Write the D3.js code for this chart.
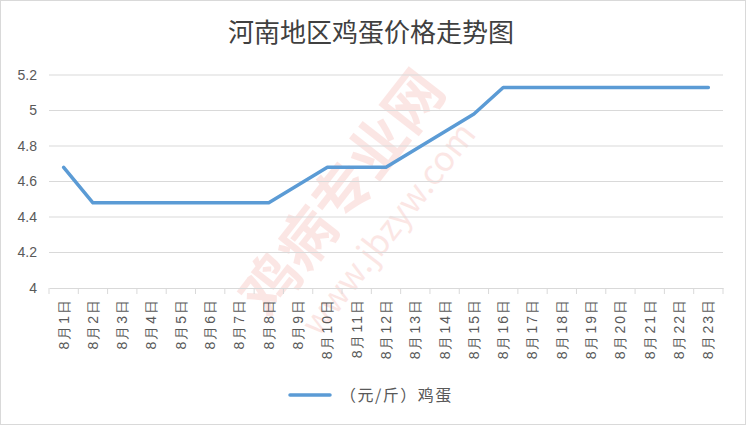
<!DOCTYPE html>
<meta charset="utf-8">
<style>
    body { margin: 0; background: #fff; }
    svg { display: block; font-family: "Noto Sans CJK SC", "DejaVu Sans", sans-serif; }
</style>
<script src="https://cdn.jsdelivr.net/npm/d3@7"></script>
<svg width="746" height="425"></svg>
<script>
    var dias = ["8月1日", "8月2日", "8月3日", "8月4日", "8月5日", "8月6日", "8月7日", "8月8日",
        "8月9日", "8月10日", "8月11日", "8月12日", "8月13日", "8月14日", "8月15日", "8月16日",
        "8月17日", "8月18日", "8月19日", "8月20日", "8月21日", "8月22日", "8月23日"];
    var precos = [4.68, 4.48, 4.48, 4.48, 4.48, 4.48, 4.48, 4.48, 4.58, 4.68, 4.68, 4.68,
        4.78, 4.88, 4.98, 5.13, 5.13, 5.13, 5.13, 5.13, 5.13, 5.13, 5.13];
    var ticksY = [4, 4.2, 4.4, 4.6, 4.8, 5, 5.2];
    var titulo = "河南地区鸡蛋价格走势图";
    var serie = "（元/斤）鸡蛋";

    var svg = d3.select("svg");

    // moldura
    svg.append("rect")
        .attr("x", 0.5).attr("y", 0.5)
        .attr("width", 745).attr("height", 424)
        .attr("fill", "#fff").attr("stroke", "#d9d9d9");

    // marca d'agua
    var marca = svg.append("g")
        .attr("transform", "translate(390,230) rotate(-52)")
        .attr("fill", "#e8463a")
        .attr("opacity", 0.13)
        .attr("text-anchor", "middle");
    marca.append("text").attr("y", -40)
        .style("font-size", "58px").style("font-weight", "bold")
        .text("鸡病专业网");
    marca.append("text").attr("y", 10)
        .style("font-size", "34px")
        .text("www.jbzyw.com");

    var x = d3.scaleBand().domain(dias).range([49, 723]);
    var y = d3.scaleLinear().domain([4, 5.2]).range([288, 75]);

    svg.append("g")
        .selectAll("line")
        .data(ticksY.slice(1))
        .enter().append("line")
        .attr("x1", 49).attr("x2", 723)
        .attr("y1", function (d) { return y(d); })
        .attr("y2", function (d) { return y(d); })
        .attr("stroke", "#d9d9d9").attr("stroke-width", 1);

    var eixoY = svg.append("g")
        .attr("transform", "translate(49,0)")
        .call(d3.axisLeft(y).tickValues(ticksY).tickSize(0).tickPadding(12).tickFormat(d3.format("")));
    eixoY.select(".domain").remove();
    eixoY.selectAll("text")
        .attr("fill", "#595959")
        .style("font-size", "14px")
        .style("font-family", "Liberation Sans, Arial, sans-serif");

    var eixoX = svg.append("g")
        .attr("transform", "translate(0,288)")
        .call(d3.axisBottom(x).tickSize(0));
    eixoX.select(".domain").attr("stroke", "#d9d9d9");
    eixoX.selectAll(".tick line").remove();
    eixoX.selectAll("text")
        .attr("fill", "#595959")
        .style("font-size", "14px")
        .style("letter-spacing", "2px")
        .attr("transform", "rotate(-90)")
        .attr("x", -10).attr("y", 0)
        .attr("dy", "0.35em")
        .style("text-anchor", "end");

    // marcas entre categorias
    svg.append("g")
        .selectAll("line")
        .data(dias.concat(["fim"]))
        .enter().append("line")
        .attr("x1", function (d, i) { return 49 + i * x.step(); })
        .attr("x2", function (d, i) { return 49 + i * x.step(); })
        .attr("y1", 288).attr("y2", 294)
        .attr("stroke", "#d9d9d9");

    var linha = d3.line()
        .x(function (d, i) { return x(dias[i]) + x.bandwidth() / 2; })
        .y(function (d) { return y(d); });

    svg.append("path")
        .datum(precos)
        .attr("d", linha)
        .attr("fill", "none")
        .attr("stroke", "#5b9bd5")
        .attr("stroke-width", 3.5)
        .attr("stroke-linecap", "round")
        .attr("stroke-linejoin", "round");

    svg.append("text")
        .attr("x", 371).attr("y", 42)
        .attr("text-anchor", "middle")
        .attr("fill", "#404040")
        .style("font-size", "26px")
        .text(titulo);

    // legenda
    svg.append("line")
        .attr("x1", 290).attr("x2", 330)
        .attr("y1", 395).attr("y2", 395)
        .attr("stroke", "#5b9bd5").attr("stroke-width", 3.5)
        .attr("stroke-linecap", "round");
    svg.append("text")
        .attr("x", 340).attr("y", 401)
        .attr("fill", "#595959")
        .style("font-size", "16px")
        .style("letter-spacing", "1.5px")
        .text(serie);
</script>
